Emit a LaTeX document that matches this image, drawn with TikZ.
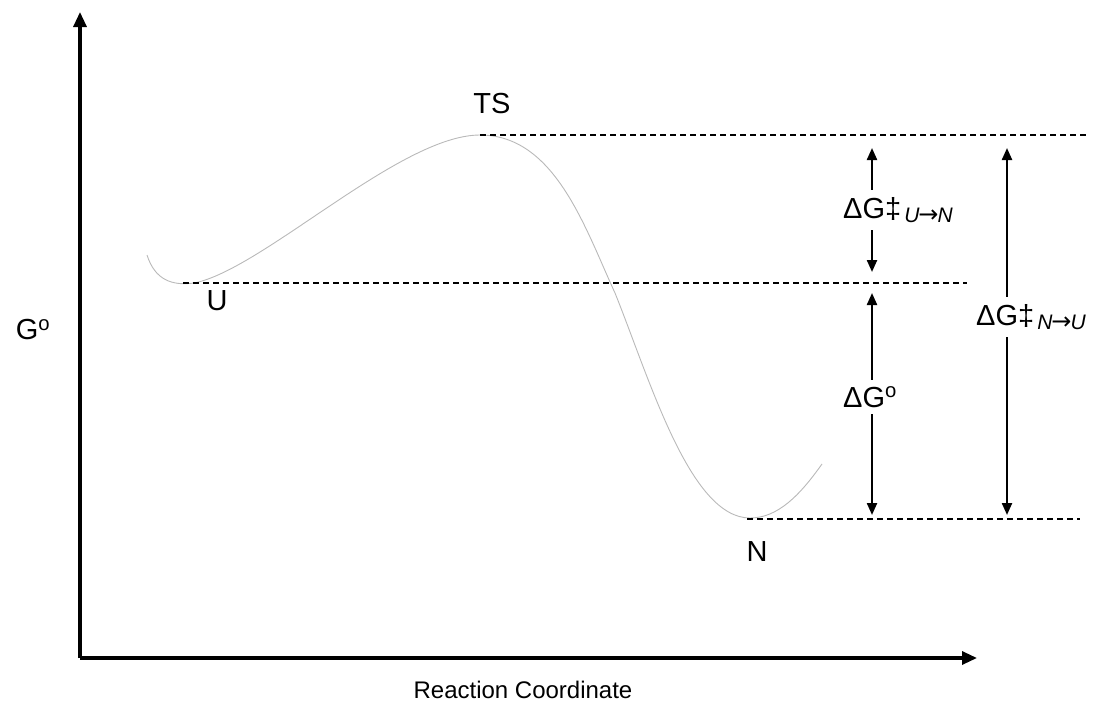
\documentclass[tikz,border=0pt]{standalone}
\usepackage{fontspec}
\setmainfont{Liberation Sans}
\newfontfamily\arrfont{DejaVu Sans}
\usetikzlibrary{arrows.meta}
\newcommand{\subarr}{{\arrfont\upshape\fontsize{24}{26}\selectfont →}}
\begin{document}
\begin{tikzpicture}[x=1pt,y=-1pt,
  lbl/.style={font=\fontsize{29}{33}\selectfont, inner sep=0pt},
  axis/.style={line width=3.2pt, -{Triangle[length=15pt,width=13pt]}},
  level/.style={line width=2.2pt, dash pattern=on 6pt off 4pt},
  gap/.style={line width=2.2pt, {Triangle[length=12pt,width=10pt]}-{Triangle[length=12pt,width=10pt]}},
  dlabel/.style={font=\fontsize{29}{33}\selectfont, fill=white, inner xsep=0pt, inner ysep=7pt, anchor=base west},
  curve/.style={gray!55, line width=0.9pt}]
\useasboundingbox (0,0) rectangle (1101,707);
% axes
\coordinate (O) at (80,658);
\coordinate (Ytop) at (80,12);
\coordinate (Xend) at (977,658);
\draw[axis] (O) -- (Ytop);
\draw[axis] (O) -- (Xend);
% key points
\coordinate (S) at (147,255);
\coordinate (Umin) at (194,283);
\coordinate (TSp) at (480,135);
\coordinate (Mid) at (615,293);
\coordinate (Nmin) at (750,518);
\coordinate (E) at (822,464);
% energy profile
\draw[curve] (S) .. controls (155,280) and (172,286) .. (Umin)
  .. controls (262,270) and (400,135) .. (TSp)
  .. controls (555,135) and (585,228) .. (Mid)
  .. controls (650,380) and (690,518) .. (Nmin)
  .. controls (778,518) and (800,495) .. (E);
% levels
\coordinate (T1) at (480,135); \coordinate (T2) at (1088,135);
\coordinate (M1) at (183,283); \coordinate (M2) at (967,283);
\coordinate (B1) at (747,519); \coordinate (B2) at (1080,519);
\draw[level] (T1) -- (T2);
\draw[level] (M1) -- (M2);
\draw[level] (B1) -- (B2);
% gap arrows
\coordinate (a1) at (872,148); \coordinate (a2) at (872,272);
\coordinate (b1) at (872,293); \coordinate (b2) at (872,515);
\coordinate (c1) at (1007,148); \coordinate (c2) at (1007,515);
\draw[gap] (a1) -- (a2);
\draw[gap] (b1) -- (b2);
\draw[gap] (c1) -- (c2);
\node[dlabel] (dUN) at (843,218) {ΔG‡\kern3pt\raisebox{-0.3ex}{\fontsize{21}{24}\selectfont\itshape U\kern-1pt\subarr\kern-1pt N}};
\node[dlabel] (dG) at (843,407) {ΔG\textsuperscript{o}};
\node[dlabel] (dNU) at (976,325) {ΔG‡\kern3pt\raisebox{-0.3ex}{\fontsize{21}{24}\selectfont\itshape N\kern-1pt\subarr\kern-1pt U}};
% labels
\node[lbl] (TS) at (492,104) {TS};
\node[lbl] (U) at (217,301) {U};
\node[lbl] (N) at (757,552) {N};
\node[lbl] (G) at (33,330) {G\textsuperscript{o}};
\node[lbl, font=\fontsize{24}{28}\selectfont] (RC) at (523,690) {Reaction Coordinate};
\end{tikzpicture}
\end{document}
